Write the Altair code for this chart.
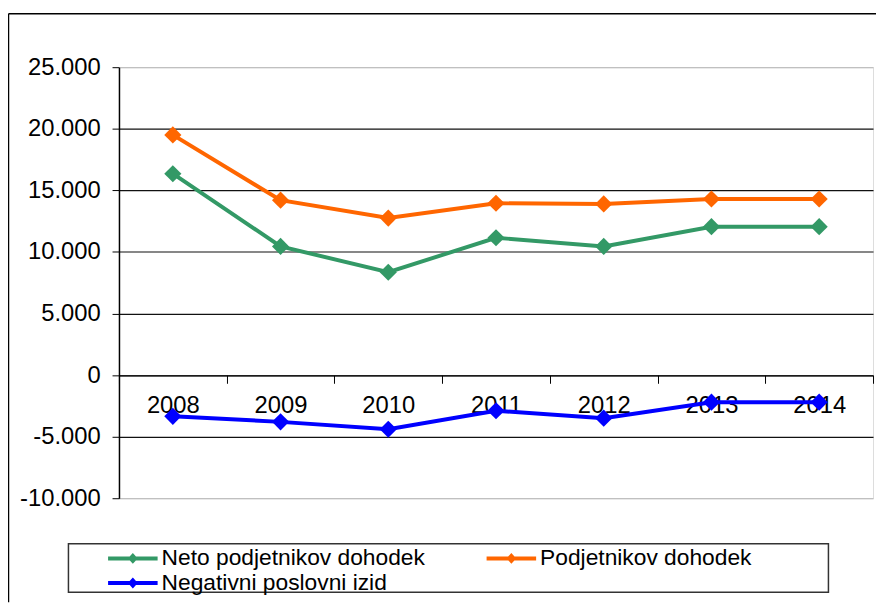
import altair as alt
import pandas as pd

years = ["2008", "2009", "2010", "2011", "2012", "2013", "2014"]
neto = [16350, 10450, 8350, 11150, 10450, 12050, 12050]
podj = [19500, 14200, 12750, 13950, 13900, 14300, 14300]
neg = [-3350, -3800, -4400, -2900, -3500, -2200, -2200]
series = ["Neto podjetnikov dohodek", "Podjetnikov dohodek", "Negativni poslovni izid"]
colors = ["#339966", "#FF6600", "#0000FF"]
y_ticks = [-10000, -5000, 0, 5000, 10000, 15000, 20000, 25000]

rows = []
for name, vals in zip(series, [neto, podj, neg]):
    for yr, v in zip(years, vals):
        rows.append({"year": yr, "value": v, "series": name})
df = pd.DataFrame(rows)

FONT = "Liberation Sans"

x_enc = alt.X(
    "year:N",
    sort=years,
    scale=alt.Scale(type="band", paddingInner=0, paddingOuter=0),
    axis=alt.Axis(
        title=None, orient="bottom", offset=-124, labelAngle=0,
        labelFontSize=24, labelFont=FONT, labelColor="black",
        tickBand="extent", tickSize=8, tickColor="black", tickWidth=1,
        domainColor="black", domainWidth=1, labelPadding=10, grid=False,
    ),
)
y_enc = alt.Y(
    "value:Q",
    scale=alt.Scale(domain=[-10000, 25000], nice=False, zero=False),
    axis=alt.Axis(
        title=None, values=y_ticks,
        labelExpr="(datum.value < 0 ? '-' : '') + replace(format(abs(datum.value), ','), ',', '.')",
        labelFontSize=24, labelFont=FONT, labelColor="black", labelPadding=12,
        tickSize=7, tickColor="black", domainColor="black", domainWidth=1.5,
        gridColor={"condition": {"test": "datum.value == 25000 || datum.value == -10000",
                                 "value": "#c0c0c0"}, "value": "#111111"},
        gridWidth=1.2,
    ),
)
legend_path = "M-8.5,0H1.5M-3.95,0L-3.5,-0.5L-3.05,0L-3.5,0.5Z"
color_enc = alt.Color(
    "series:N",
    scale=alt.Scale(domain=series, range=colors),
    legend=alt.Legend(
        title=None, orient="none", legendX=20, legendY=484, columns=2,
        direction="horizontal",
        symbolType=legend_path, symbolSize=100, symbolStrokeWidth=4,
        labelFontSize=23, labelFont=FONT, labelColor="black", labelOffset=0,
        labelLimit=500, columnPadding=54, rowPadding=1, padding=0,
    ),
)

base = alt.Chart(df).encode(x=x_enc, y=y_enc, color=color_enc)
lines = base.mark_line(strokeWidth=4)
points = base.mark_point(shape="diamond", size=300, filled=True, opacity=1)

one = pd.DataFrame({"k": [0]})
frame_left = alt.Chart(one).mark_rule(color="black", strokeWidth=1.5).encode(
    x=alt.value(-111.5), y=alt.value(-54), y2=alt.value(540))
frame_top = alt.Chart(one).mark_rule(color="black", strokeWidth=1.5).encode(
    x=alt.value(-111.5), x2=alt.value(770), y=alt.value(-54))
legend_box = alt.Chart(one).mark_rect(fill="white", fillOpacity=0, stroke="#333333",
                                      strokeWidth=1.5).encode(
    x=alt.value(-51), x2=alt.value(716), y=alt.value(481), y2=alt.value(530))

chart = alt.layer(frame_left, frame_top, legend_box, lines, points).properties(
    width=761, height=435,
    autosize=alt.AutoSizeParams(type="none"),
    padding={"left": 112, "top": 57, "right": 3, "bottom": 103},
).configure_view(stroke="#c0c0c0", strokeWidth=1.5).configure(background="white")

chart.save("out.html", embed_options={"renderer": "svg", "actions": False})
